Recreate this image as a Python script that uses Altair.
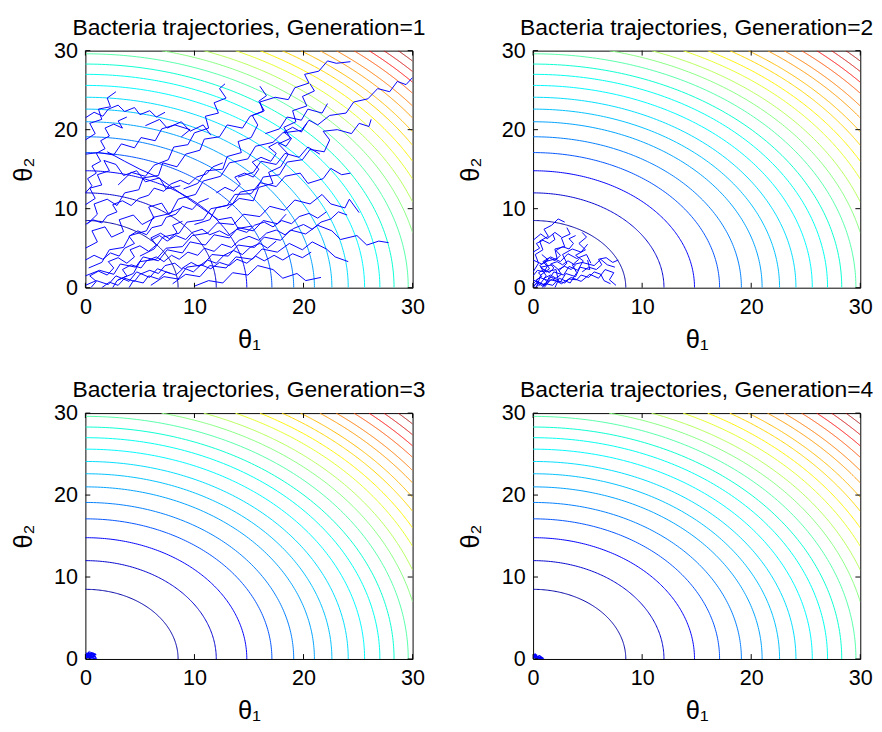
import altair as alt
import pandas as pd
import numpy as np

# ---------------- data ----------------
TICKS = [0, 10, 20, 30]
TITLES = ["Bacteria trajectories, Generation=1", "Bacteria trajectories, Generation=2",
          "Bacteria trajectories, Generation=3", "Bacteria trajectories, Generation=4"]

# contour radii (the cost surface is theta1^2 + theta2^2)
RADII = [8.5, 12.0, 14.8, 17.1, 19.1, 21.0, 22.6, 24.1, 25.6, 27.0, 28.3, 29.6,
         30.8, 31.9, 33.0, 34.0, 35.0, 35.9, 36.9, 37.8, 38.8, 39.7, 40.6, 41.5]

# bacteria trajectories, generation 1 (theta1, theta2 waypoints)
GEN1 = [
    [(0.3,2.5),(1.5,3.2),(2.2,4.8),(3.5,5.1),(4.1,6.6),(5.6,7.2),(6.2,8.9),(7.8,9.4),(8.5,11.2),(10.1,11.8),(10.8,13.5),(12.4,14.1),(13.2,15.8),(14.9,16.3),(15.6,17.9),(17.2,18.4),(18.1,19.6),(19.8,19.9),(20.5,21.2),(21.3,20.6),(22.4,21.8),(23.9,22.1),(24.6,23.5),(25.9,23.9),(26.8,25.2),(27.9,24.8),(28.6,26.1),(29.4,25.7),(30,26.6)],
    [(0.2,8.1),(1.1,9.3),(0.8,10.6),(2.0,11.2),(2.9,10.4),(3.6,12.0),(4.9,12.4),(5.3,13.9),(6.7,14.2),(7.1,15.8),(8.4,15.3),(9.2,16.9),(10.5,17.4),(10.9,18.8),(12.3,19.1),(13.0,20.6),(14.4,20.2),(15.1,21.7),(16.3,22.3),(16.0,23.5),(17.4,24.1),(18.6,23.8),(19.2,25.3),(20.5,25.9),(20.1,27.0),(21.4,27.4),(22.2,28.7),(23.0,28.4),(24.3,28.6)],
    [(0,18.7),(0.9,19.5),(0.4,20.8),(1.5,21.3),(1.2,22.6),(2.3,22.9),(2.0,24.0),(2.8,24.8)],
    [(0,16.9),(1.2,17.1),(2.6,16.8),(3.3,18.2),(4.5,17.7),(5.1,19.0),(6.4,18.6),(7.0,20.1),(8.2,20.6),(9.6,20.0),(8.8,19.1)],
    [(3.0,13.0),(4.2,14.6),(5.5,14.1),(6.3,15.5),(7.6,16.2),(8.1,17.8),(9.4,18.1),(10.0,19.6),(11.3,20.2),(11.0,21.7),(12.2,22.1),(11.8,23.4),(12.9,24.0),(12.3,25.2),(12.8,25.8)],
    [(9.0,12.5),(10.3,13.2),(11.1,14.8),(12.6,15.0),(13.0,16.6),(14.3,17.1),(14.0,18.5),(15.2,19.0),(15.8,20.6),(15.3,21.8),(16.4,22.4),(15.9,23.6),(16.6,24.3),(16.0,25.5)],
    [(13.0,10.0),(14.1,11.3),(15.4,11.0),(15.9,12.7),(17.2,13.2),(16.8,14.6),(17.9,15.3),(18.6,16.9),(17.7,18.2),(18.8,18.9),(18.2,20.3),(19.3,21.0),(19.0,22.4),(20.3,23.0),(19.9,24.2),(21.0,24.9),(20.6,25.8)],
    [(10.0,8.0),(11.4,8.6),(12.0,10.1),(13.5,10.6),(14.2,12.1),(15.7,12.5),(16.3,14.0),(17.8,14.3),(18.5,15.9),(19.9,16.2),(20.6,17.5),(21.9,17.2),(22.4,18.7),(21.8,19.8),(23.1,20.0),(24.4,19.5),(25.1,20.8),(26.0,20.4),(26.2,21.3)],
    [(5.0,4.0),(6.3,4.9),(7.1,6.4),(8.6,6.9),(9.3,8.3),(10.8,8.6),(11.5,10.0),(13.0,10.4),(13.7,11.8),(15.2,11.9),(16.0,13.3),(17.5,12.8),(18.3,14.1),(19.7,14.5),(20.4,13.2),(21.8,13.8),(22.5,15.1),(23.5,14.3),(24.3,14.5)],
    [(3.0,1.0),(4.4,1.8),(5.0,3.3),(6.5,3.6),(7.4,5.0),(8.9,5.2),(9.8,6.6),(11.2,6.9),(12.1,8.2),(13.6,8.0),(14.5,9.3),(16.0,9.0),(16.9,10.3),(18.3,9.8),(19.2,11.1),(20.6,10.6),(21.7,11.8),(22.5,10.6),(23.8,10.1),(24.2,11.2),(25.1,9.5)],
    [(6.0,0.3),(7.2,1.4),(8.5,1.1),(9.3,2.6),(10.8,2.9),(11.6,4.2),(13.1,4.0),(14.0,5.4),(15.5,5.1),(16.4,6.4),(17.9,6.0),(18.8,7.3),(20.2,6.8),(21.3,7.9),(22.6,7.2),(23.4,6.1),(24.9,6.6),(25.8,5.4),(26.9,5.9),(27.8,5.7)],
    [(8.0,0.5),(9.2,1.7),(10.5,1.4),(11.4,2.8),(12.9,2.5),(13.8,3.9),(15.3,3.6),(16.2,4.9),(17.6,4.5),(18.7,5.6),(19.9,4.8),(20.8,5.8),(22.1,4.9),(22.9,3.9),(24.1,3.3)],
    [(10.0,0.2),(11.3,0.9),(12.6,0.6),(13.5,1.9),(14.9,1.6),(15.8,2.8),(17.2,2.3),(18.1,1.2),(19.4,1.8),(20.2,0.9),(21.6,1.3)],
    [(0,5.0),(1.1,5.8),(0.6,7.2),(1.8,7.7),(2.4,6.4),(3.5,7.1),(3.1,8.6),(4.4,9.2),(5.2,8.0),(6.3,8.8),(5.8,10.2),(7.0,10.7),(7.6,9.4),(8.8,10.1)],
    [(0,1.5),(1.3,2.2),(2.6,1.7),(3.2,3.0),(4.6,2.6),(5.3,3.9),(6.7,3.4),(7.5,4.8),(8.9,4.4),(9.6,5.8),(11.0,5.4),(11.8,6.7),(13.2,6.3),(14.0,7.6),(15.4,7.2),(16.3,8.5),(17.6,8.1),(18.4,9.3)],
    [(0,10.5),(0.9,11.3),(0.4,12.6),(1.5,13.0),(1.1,14.3),(2.2,14.8),(1.7,16.1),(2.8,15.6),(3.5,14.2),(4.7,14.8),(5.5,13.4),(6.8,13.9),(7.4,12.5),(8.7,12.9)],
    [(2.0,17.2),(3.6,16.0),(5.0,15.0),(6.6,14.0),(9.4,11.3),(12.2,8.6),(13.4,8.9),(14.0,7.5),(15.3,7.8)],
    [(5.5,20.5),(6.8,21.3),(7.5,20.2),(8.8,21.0),(9.6,19.8),(10.8,20.6),(11.5,19.3)],
    [(0,0.3),(1.0,0.9),(2.1,0.4),(2.8,1.5),(4.0,0.8),(4.7,2.0),(5.9,1.3),(6.6,2.4),(7.8,1.8)],
    [(14.0,14.0),(15.4,14.6),(16.1,16.0),(17.5,15.6),(18.3,17.0),(19.6,16.5),(20.4,17.8),(21.5,16.9)],
    [(16.5,19.5),(17.8,20.1),(18.5,21.6),(19.8,21.2),(20.4,22.6),(21.7,22.1),(22.2,23.3)],
    [(0.5,0),(1.0,0.8),(0.4,1.5),(1.2,2.1),(2.0,1.6),(2.6,2.5),(2.1,3.3),(3.0,3.8),(3.8,3.1),(4.5,3.9),(4.1,4.8),(5.0,5.3),(5.8,4.6),(6.5,5.4),(6.0,6.3),(6.9,6.9),(7.7,6.2),(8.4,7.0),(8.0,7.9),(8.9,8.4)],
    [(0,3.5),(0.8,4.1),(1.6,3.6),(2.3,4.4),(3.1,4.0),(3.6,5.0),(4.5,5.6),(4.0,6.5),(4.8,7.2),(5.6,6.7),(6.1,7.6),(7.0,7.9),(7.4,8.9),(8.3,9.3),(8.9,10.3),(9.8,9.9),(10.4,10.8),(11.3,11.3)],
    [(1.5,0),(2.2,0.7),(3.0,0.3),(3.6,1.2),(4.5,0.8),(5.0,1.7),(5.9,2.2),(6.7,1.8),(7.3,2.8),(8.2,3.1),(8.8,2.4),(9.7,3.2),(10.4,2.7),(11.2,3.5),(12.0,3.1),(12.7,4.1),(13.6,4.7),(14.4,4.2),(15.1,5.1),(16.0,5.6),(16.7,5.0),(17.5,5.9)],
    [(0,8.0),(0.7,8.6),(1.5,8.2),(2.0,9.1),(2.9,9.6),(2.5,10.5),(3.4,11.0),(4.2,10.4),(4.9,11.3),(5.8,11.7),(6.3,12.6),(7.2,12.2),(7.8,13.1),(8.7,13.6),(9.5,13.1),(10.2,14.0),(11.1,14.4),(11.7,15.3),(12.6,15.8)],
    [(2.5,0),(2.9,0.9),(3.8,1.5),(3.4,2.3),(4.2,2.9),(5.1,2.5),(5.6,3.4),(6.5,3.9),(7.2,3.3),(7.9,4.1),(8.6,3.6),(9.4,4.5),(10.3,4.1),(10.9,5.0),(11.8,4.6),(12.5,5.5),(13.4,5.1),(14.1,6.0),(15.0,6.5),(15.9,6.0),(16.6,6.9),(17.5,7.3),(18.3,6.7),(19.1,7.5),(20.0,8.0),(20.8,7.4),(21.6,8.3),(22.5,8.7),(23.2,9.6),(24.0,9.2)],
    [(0,12.0),(0.6,12.9),(0.2,13.8),(1.0,14.5),(0.6,15.4),(1.4,16.0),(1.0,17.0),(1.8,17.6),(1.4,18.6),(2.2,19.2),(1.8,20.2),(2.6,20.7),(3.4,20.2),(3.0,21.1),(3.8,21.6)],
    [(4.0,0),(4.4,0.9),(5.3,0.6),(5.8,1.5),(6.7,1.1),(7.4,2.0),(8.3,1.6),(9.0,2.5),(9.9,2.0),(10.6,2.9),(11.5,2.4),(12.3,3.2),(13.2,2.8),(13.9,3.6),(14.8,3.1),(15.6,4.0),(16.4,3.4),(17.3,4.1),(18.1,3.5),(19.0,4.3),(19.9,3.8),(20.7,4.5)],
    [(6.0,6.0),(6.8,6.6),(7.5,5.9),(8.3,6.6),(9.2,6.1),(9.8,7.0),(10.7,7.4),(11.4,6.7),(12.3,7.2),(13.1,6.6),(13.9,7.4),(14.8,7.0),(15.5,7.9),(16.4,8.3),(17.2,7.7),(18.0,8.5),(18.9,8.1),(19.6,9.0),(20.5,9.4),(21.3,8.8),(22.1,9.6)],
    [(12.0,12.0),(12.8,12.7),(13.6,12.2),(14.2,13.1),(13.7,14.0),(14.6,14.5),(15.4,14.0),(15.9,15.0),(15.3,15.9),(16.1,16.5),(17.0,16.0),(17.5,17.0),(16.8,17.8),(17.6,18.4),(18.4,17.9),(18.9,18.9),(18.2,19.7),(19.0,20.3),(19.8,19.7),(20.3,20.8)],
    [(0,21.5),(0.8,22.2),(1.6,21.7),(2.1,22.6),(3.0,23.1),(3.6,22.3),(4.5,22.8),(5.0,21.9),(5.9,22.4),(6.5,21.6),(7.3,22.2)],
]

GEN2 = [
    [(0,0.5),(0.6,1.3),(1.4,0.9),(1.9,2.0),(2.8,1.6),(3.3,2.7),(4.1,2.2),(4.6,3.4),(3.9,4.1),(4.8,4.8),(4.2,5.6),(4.9,6.4),(4.5,7.0)],
    [(0,2.0),(0.5,3.1),(0.2,4.2),(0.9,4.8),(0.6,5.9),(1.4,6.5),(1.0,7.4),(1.7,7.9),(2.3,8.7),(2.9,8.3)],
    [(0,1.0),(0.9,0.4),(1.8,1.1),(2.6,0.5),(3.5,1.3),(4.4,0.8),(5.2,1.7),(6.0,1.2),(6.6,2.3),(7.4,1.9),(7.0,1.0),(7.6,0.3)],
    [(0.3,0),(0.7,1.6),(1.5,2.4),(1.1,3.3),(2.2,3.7),(2.0,4.9),(2.9,5.2),(2.6,6.3),(3.4,6.8),(3.1,7.6)],
    [(1.0,0),(1.6,1.0),(2.5,0.7),(3.0,1.8),(3.9,1.4),(4.3,2.6),(5.2,2.3),(5.0,3.5)],
    [(0,3.5),(0.8,3.0),(1.6,3.9),(2.5,3.3),(3.2,4.3),(4.0,3.7),(4.9,4.2),(5.3,3.1)],
    [(0.5,0.2),(1.2,1.5),(0.7,2.6),(1.8,2.9),(2.4,2.2),(3.1,3.1),(2.7,4.2),(3.6,4.9),(4.4,4.5),(5.0,5.5)],
    [(2.0,0),(2.4,1.2),(3.4,0.6),(4.0,1.9),(3.6,2.9),(4.5,3.2),(5.6,2.8),(6.2,3.6),(6.8,2.9),(7.5,2.6)],
    [(0,6.0),(0.7,6.8),(1.3,6.2),(2.0,7.0),(2.6,6.4)],
    [(0,0),(0.4,0.8),(1.1,0.3),(1.5,1.4),(2.3,1.0),(2.1,2.3),(1.2,2.0),(0.6,2.8),(1.4,3.5),(0.8,4.2)],
    [(0,0.2),(0.4,0.6),(0.9,0.2),(1.3,0.7),(1.0,1.2),(1.6,1.6),(2.1,1.2),(2.6,1.7),(2.3,2.3),(2.9,2.7),(3.5,2.3),(3.9,2.9)],
    [(0.2,0),(0.5,0.5),(0.3,1.0),(0.8,1.4),(0.5,1.9),(1.0,2.3),(1.5,1.9),(1.9,2.5),(1.6,3.0),(2.2,3.3),(2.7,2.9),(3.2,3.4),(3.7,3.0),(4.2,3.6)],
    [(0.8,0),(1.2,0.5),(1.8,0.3),(2.2,0.9),(2.9,0.6),(3.3,1.1),(4.0,1.0),(4.4,1.6),(5.1,1.3),(5.6,2.0),(6.2,1.7),(6.5,0.9),(7.1,0.5)],
    [(0,1.5),(0.4,2.2),(1.0,2.0),(1.3,2.7),(0.9,3.3),(1.5,3.8),(2.0,3.4),(2.5,4.1),(2.1,4.7),(2.7,5.2),(3.3,4.9),(3.7,5.6),(3.3,6.2),(3.9,6.6)],
    [(0,4.5),(0.6,5.0),(0.3,5.6),(0.9,6.0),(1.5,5.6),(2.0,6.1),(1.8,6.8)],
    [(4.5,2.0),(5.1,2.6),(5.8,2.3),(6.3,2.9),(6.0,3.6),(6.7,3.8),(7.3,3.2),(7.8,3.5)],
]

GEN3 = [
    [(0,0),(0.3,0.4),(0.1,0.7),(0.5,0.6),(0.4,0.2),(0.8,0.4),(1.0,0.1),(0.7,0)],
    [(0.1,0),(0.2,0.5),(0.6,0.3),(0.5,0.8),(0.9,0.6),(0.6,0.1)],
    [(0,0.3),(0.4,0.1),(0.3,0.6),(0.7,0.7),(0.8,0.2)],
    [(0,0.1),(0.2,0.3),(0.05,0.5),(0.3,0.8),(0.2,0.4),(0.6,0.5),(0.4,0.05),(0.9,0.3),(0.7,0.6),(1.0,0.5)],
    [(0.05,0.6),(0.25,0.2),(0.45,0.5),(0.35,0.75),(0.65,0.55),(0.55,0.15),(0.85,0.05)],
]

GEN4 = [
    [(0,0),(0.2,0.6),(0.4,0.3),(0.6,0.4),(0.9,0.1),(0.5,0.05),(0.3,0)],
    [(0.1,0.1),(0.2,0.4),(0.5,0.2),(0.3,0.1)],
    [(0,0.3),(0.3,0.2),(0.7,0.2),(0.4,0)],
    [(0,0.5),(0.1,0.2),(0.3,0.45),(0.25,0.1),(0.5,0.3),(0.45,0.05),(0.8,0.15),(0.6,0.0)],
    [(0,0.1),(0.15,0.55),(0.35,0.2),(0.2,0.0),(0.6,0.2),(0.95,0.05)],
]
GENERATIONS = [GEN1, GEN2, GEN3, GEN4]

# ---------------- tables ----------------
rows = []
for r in RADII:
    a0 = 0.0 if r <= 30 else np.arccos(30.0 / r)
    a1 = np.pi / 2 if r <= 30 else np.arcsin(30.0 / r)
    for i, a in enumerate(np.linspace(a0, a1, 120)):
        rows.append({"r": r, "level": r * r, "i": i, "x": r * np.cos(a), "y": r * np.sin(a)})
contours = pd.DataFrame(rows)
ticks = pd.DataFrame({"v": TICKS})

JET_DOM = [0, 225, 675, 1125, 1575, 1800]
JET_RNG = ["#000080", "#0000ff", "#00ffff", "#ffff00", "#ff0000", "#800000"]

W = 334
FONT = "Liberation Sans"
sx = alt.Scale(domain=[0, 30], nice=False, zero=False)
sy = alt.Scale(domain=[0, 30], nice=False, zero=False)


def axis(title_pad, label_pad):
    return alt.Axis(values=TICKS, ticks=False, domain=False, grid=False, labelFlush=False,
                    labelFontSize=22, labelPadding=label_pad, titleFontSize=26,
                    titlePadding=title_pad, labelFont=FONT, titleFont=FONT,
                    titleFontWeight="normal", labelColor="black", titleColor="black")


def panel(g, H):
    traj = pd.DataFrame([
        {"p": p, "i": i, "x": x, "y": y}
        for p, path in enumerate(GENERATIONS[g]) for i, (x, y) in enumerate(path)
    ])
    cont = alt.Chart(contours).mark_line(strokeWidth=1, clip=True).encode(
        x=alt.X("x:Q", scale=sx, title="θ₁", axis=axis(10, 9)),
        y=alt.Y("y:Q", scale=sy, title="θ₂", axis=axis(18, 8)),
        detail="r:N",
        order="i:Q",
        color=alt.Color("level:Q", scale=alt.Scale(domain=JET_DOM, range=JET_RNG), legend=None),
    )
    tr = alt.Chart(traj).mark_line(strokeWidth=1.2 if g >= 2 else 1, color="#0000ff",
                                   clip=True).encode(
        x=alt.X("x:Q", scale=sx),
        y=alt.Y("y:Q", scale=sy),
        detail="p:N",
        order="i:Q",
    )
    tb = alt.Chart(ticks).mark_rule(color="black").encode(
        x=alt.X("v:Q", scale=sx), y=alt.value(H), y2=alt.value(H - 5))
    tt = alt.Chart(ticks).mark_rule(color="black").encode(
        x=alt.X("v:Q", scale=sx), y=alt.value(0), y2=alt.value(5))
    tl = alt.Chart(ticks).mark_rule(color="black").encode(
        y=alt.Y("v:Q", scale=sy), x=alt.value(0), x2=alt.value(5))
    trr = alt.Chart(ticks).mark_rule(color="black").encode(
        y=alt.Y("v:Q", scale=sy), x=alt.value(W), x2=alt.value(W - 5))
    return alt.layer(cont, tr, tb, tt, tl, trr).properties(
        width=W, height=H,
        title=alt.TitleParams(TITLES[g], fontSize=23.3, font=FONT, fontWeight="normal",
                              color="black", offset=0),
    )


top = alt.hconcat(panel(0, 242), panel(1, 242), spacing=32)
bottom = alt.hconcat(panel(2, 251), panel(3, 251), spacing=32)
chart = alt.vconcat(top, bottom, spacing=25).configure_view(
    stroke="black", strokeWidth=1
).properties(padding={"left": 2, "top": 0, "right": 0, "bottom": 0})

chart.save("out.html", embed_options={"renderer": "svg", "actions": False})
